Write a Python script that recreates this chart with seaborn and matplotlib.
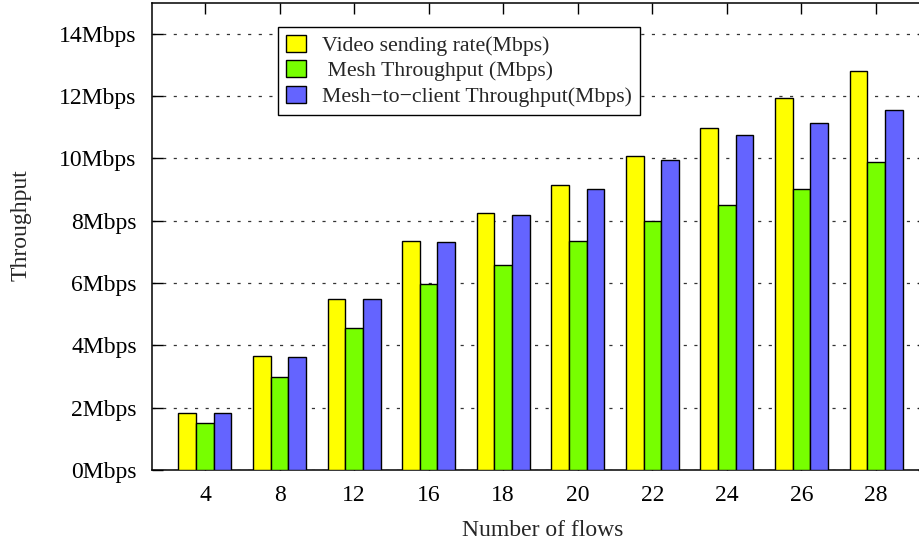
import matplotlib
matplotlib.use("Agg")
import matplotlib.pyplot as plt
import seaborn as sns
import pandas as pd

flows = ["4", "8", "12", "16", "18", "20", "22", "24", "26", "28"]
video_rate = [1.83, 3.65, 5.49, 7.35, 8.24, 9.16, 10.07, 10.98, 11.93, 12.81]
mesh_tp = [1.50, 3.00, 4.56, 5.97, 6.57, 7.35, 7.99, 8.50, 9.03, 9.89]
client_tp = [1.83, 3.64, 5.48, 7.33, 8.20, 9.02, 9.94, 10.74, 11.14, 11.57]
series_names = ["Video sending rate(Mbps)", " Mesh Throughput (Mbps)",
                "Mesh\u2212to\u2212client Throughput(Mbps)"]
yticks = [0, 2, 4, 6, 8, 10, 12, 14]
ytick_labels = [f"{v}Mbps" for v in yticks]

colors = ["#FFFF00", "#77FF00", "#6464FF"]

rows = []
for name, vals in zip(series_names, [video_rate, mesh_tp, client_tp]):
    for f, v in zip(flows, vals):
        rows.append({"flows": f, "value": v, "series": name})
df = pd.DataFrame(rows)

sns.set_style("white")
plt.rcParams["font.family"] = ["Liberation Serif", "DejaVu Serif"]

W, H = 920, 559
fig = plt.figure(figsize=(W / 100, H / 100), dpi=100)
ax = fig.add_axes([152 / W, 1 - 470 / H, 777 / W, 467.3 / H])

sns.barplot(data=df, x="flows", y="value", hue="series", order=flows,
            hue_order=series_names, palette=colors, width=0.71, gap=0,
            edgecolor="black", linewidth=1.0, saturation=1, ax=ax,
            errorbar=None, zorder=3)

FS = 17
ax.set_xlim(-0.71, 9.71)
ax.set_ylim(0, 15)
ax.set_yticks(yticks)
ax.set_yticklabels(ytick_labels)
ax.set_xlabel("")
ax.set_ylabel("")
ax.yaxis.grid(True, linestyle=(0, (2.5, 6)), color="#333333", linewidth=0.9, zorder=0)
ax.set_axisbelow(True)
ax.tick_params(axis="both", direction="in", length=8, width=1.0,
               top=True, right=True, bottom=True, left=True, labelsize=FS,
               colors="black")
ax.tick_params(axis="x", pad=11)
ax.tick_params(axis="y", pad=11)
for s in ax.spines.values():
    s.set_linewidth(1.1)
    s.set_color("black")

ax.legend_.remove()
handles = [plt.Rectangle((0, 0), 1, 1, facecolor=c, edgecolor="black", linewidth=1.0) for c in colors]
leg = fig.legend(handles, series_names, loc="upper left",
                 bbox_to_anchor=(278 / W, 1 - 27 / H), fontsize=15.7,
                 frameon=True, fancybox=False, framealpha=1, edgecolor="black",
                 handlelength=0.93, handleheight=0.82, handletextpad=0.75,
                 labelspacing=0.2, borderpad=0.36, borderaxespad=0)
leg.get_frame().set_linewidth(1.0)

fig.text(21 / W, 1 - 225 / H, "Throughput", rotation=90, ha="center", va="center", fontsize=FS)
fig.text(543 / W, 1 - 530 / H, "Number of flows", ha="center", va="center", fontsize=FS)

fig.savefig("out.png", dpi=100)
